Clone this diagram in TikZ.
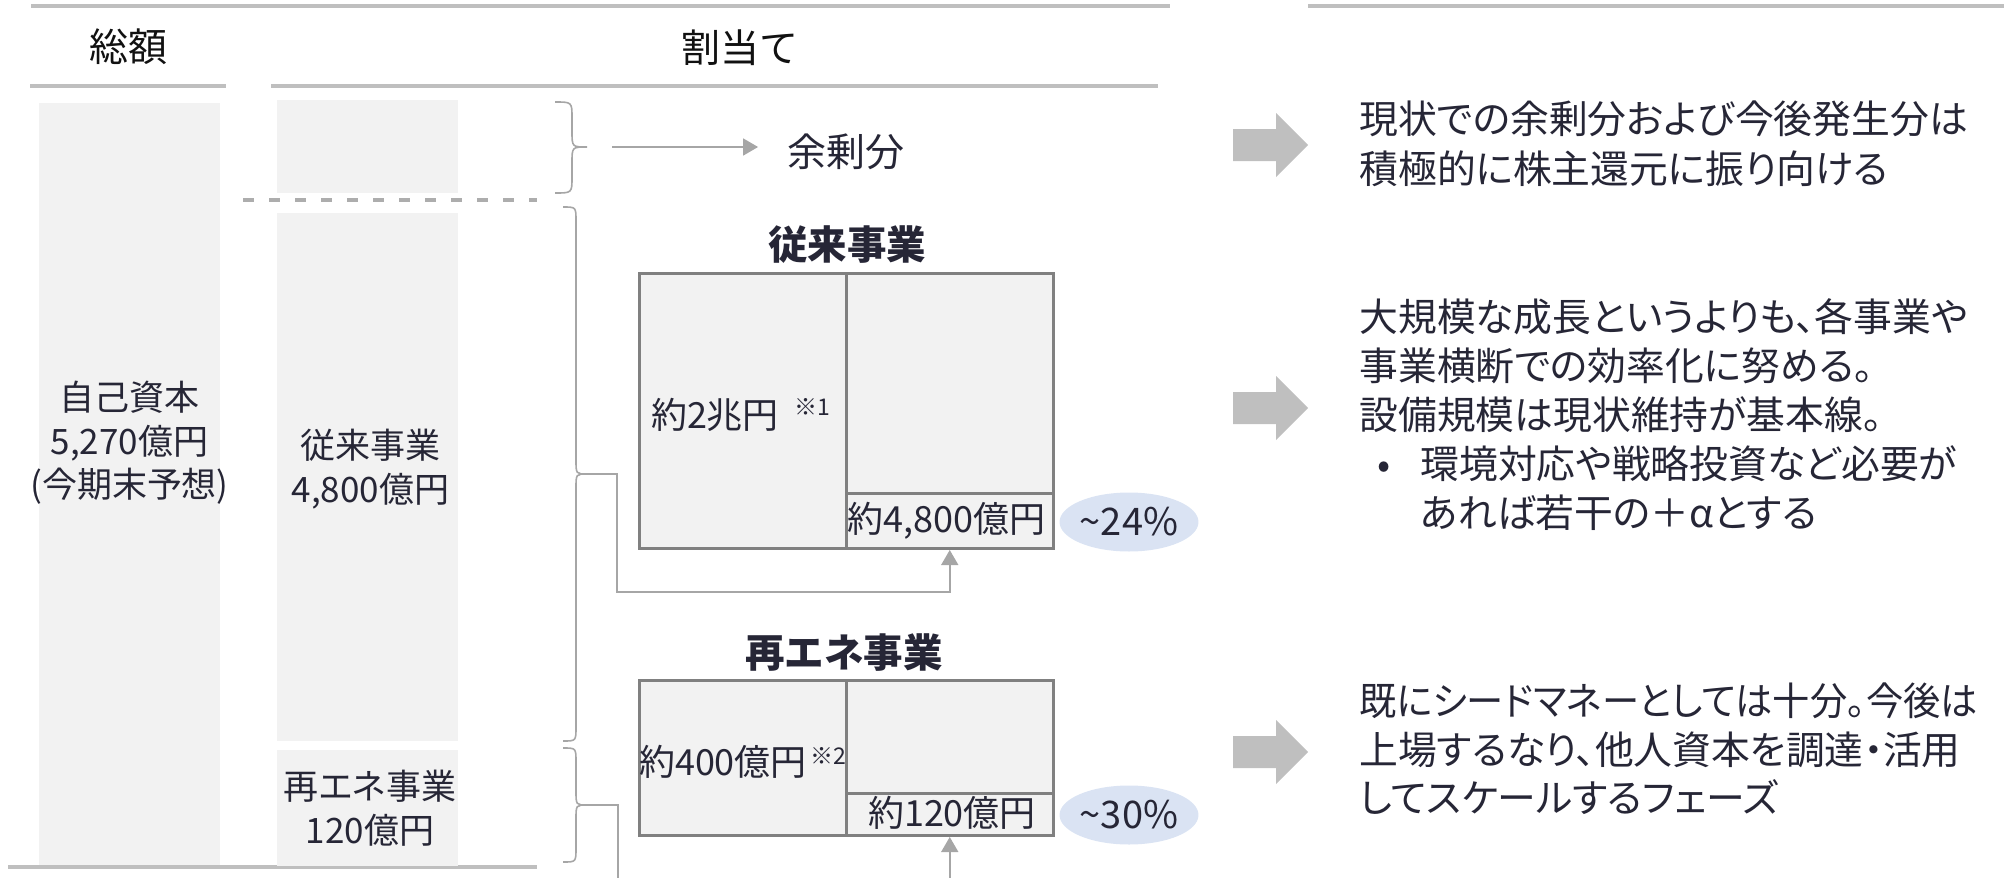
\documentclass[tikz,border=0pt]{standalone}
\usepackage{fontspec}
\setmainfont{Noto Sans CJK JP}
\newfontfamily\rfont{Noto Sans CJK JP}[RawFeature=+palt]
\newfontfamily\pfont{Noto Sans CJK JP}[RawFeature=+palt]
\usetikzlibrary{arrows.meta,shapes.geometric}
\definecolor{lineg}{HTML}{BFBFBF}
\definecolor{dashg}{HTML}{ADADAD}
\definecolor{conng}{HTML}{A6A6A6}
\definecolor{barf}{HTML}{F2F2F2}
\definecolor{boxd}{HTML}{808080}
\definecolor{ellf}{HTML}{DAE3F3}
\definecolor{txt}{HTML}{262636}
\definecolor{blk}{HTML}{111111}
\begin{document}
\begin{tikzpicture}[x=0.5pt,y=-0.5pt,
  rule/.style={draw=lineg,line width=2pt},
  bar/.style={fill=barf,draw=none,inner sep=0pt,outer sep=0pt,anchor=north west},
  cell/.style={fill=barf,draw=boxd,line width=1.5pt,inner sep=0pt,anchor=north west},
  brc/.style={draw=conng,line width=0.8pt},
  conn/.style={draw=conng,line width=0.8pt},
  tipped/.style={-{Triangle[length=7.5pt,width=8.5pt]}},
  hdr/.style={text=blk,inner sep=0pt,font=\fontsize{19.5pt}{24pt}\selectfont},
  ctext/.style={text=txt,inner sep=0pt,align=center,font=\pfont\fontsize{17.5pt}{21.75pt}\selectfont},
  lbl/.style={text=txt,inner sep=0pt,font=\fontsize{18pt}{22pt}\selectfont},
  note/.style={text=txt,inner sep=0pt,font=\fontsize{11.5pt}{14pt}\selectfont},
  ttl/.style={text=txt,inner sep=0pt,font=\bfseries\fontsize{19.75pt}{24pt}\selectfont},
  pct/.style={fill=ellf,ellipse,draw=none,inner sep=0pt,minimum width=64pt,minimum height=29.5pt,text=txt,font=\fontsize{19pt}{22pt}\selectfont},
  rtext/.style={text=txt,inner sep=0pt,align=left,anchor=west,font=\rfont\fontsize{19.4pt}{25pt}\selectfont},
  blockarrow/.style={fill=lineg,draw=none}
]
\useasboundingbox (0,0) rectangle (2004,878);
\clip (0,0) rectangle (2004,878);

% header rules
\draw[rule] (31,6) -- (1170,6);
\draw[rule] (1308,6) -- (2004,6);
\draw[rule] (30,86) -- (226,86);
\draw[rule] (271,86) -- (1158,86);
\draw[rule] (8,867) -- (537,867);

% headers
\node[hdr] (hTotal) at (129,47) {総額};
\node[hdr] (hAlloc) at (740,48) {割当て};

% bars
\node[bar,minimum width=90.5pt,minimum height=381pt] (barTotal) at (39,103) {};
\node[bar,minimum width=90.5pt,minimum height=46.5pt] (barSurp) at (277,100) {};
\node[bar,minimum width=90.5pt,minimum height=264pt] (barLeg) at (277,213) {};
\node[bar,minimum width=90.5pt,minimum height=58pt] (barRen) at (277,750) {};

\draw[draw=dashg,line width=2pt,dash pattern=on 5.5pt off 7.5pt] (243,200) -- (537,200);

\node[ctext] (tTotal) at (129.5,443) {自己資本\\5,270億円\\(今期末予想)};
\node[ctext] (tLeg) at (370.5,469) {従来事業\\4,800億円};
\node[ctext] (tRen) at (370,808) {再エネ事業\\120億円};

% braces
\coordinate (b1tip) at (587,147);
\coordinate (b2tip) at (587,474);
\coordinate (b3tip) at (587,805);
\draw[brc] (555,102) .. controls (572,102) .. (572,118) -- (572,131) .. controls (572,147) .. (b1tip)
  .. controls (572,147) .. (572,163) -- (572,177) .. controls (572,193) .. (555,193);
\draw[brc] (563,207) .. controls (576,207) .. (576,221) -- (576,460) .. controls (576,474) .. (b2tip)
  .. controls (576,474) .. (576,488) -- (576,727) .. controls (576,741) .. (563,741);
\draw[brc] (563,748) .. controls (576,748) .. (576,762) -- (576,791) .. controls (576,805) .. (b3tip)
  .. controls (576,805) .. (576,819) -- (576,848) .. controls (576,862) .. (563,862);

% surplus
\node[text=txt,inner sep=0pt,font=\fontsize{19.5pt}{23pt}\selectfont] (surp) at (846,152) {余剰分};
\draw[conn,tipped] ([xshift=12.5pt]b1tip) -- ([xshift=-14.5pt]surp.west |- b1tip);

% legacy box
\node[ttl] (ttlLeg) at (847,245) {従来事業};
\node[cell,minimum width=103.25pt,minimum height=137.5pt] (legL) at (638,272) {};
\node[cell,minimum width=103.75pt,minimum height=110pt] (legRT) at (844.5,272) {};
\node[cell,minimum width=103.75pt,minimum height=27.5pt] (legRB) at (844.5,492) {};
\node[lbl] (legTotal) at (715,415) {約2兆円};
\node[note] (n1) at (812,407) {※1};
\node[lbl] (legVal) at (946.5,521) {約4,800億円};
\node[pct] (p1) at (1129,522) {\textasciitilde 24\%};

% renewable box
\node[ttl] (ttlRen) at (844,653) {再エネ事業};
\node[cell,minimum width=103.25pt,minimum height=77.5pt] (renL) at (638,679) {};
\node[cell,minimum width=103.75pt,minimum height=56.5pt] (renRT) at (844.5,679) {};
\node[cell,minimum width=103.75pt,minimum height=21pt] (renRB) at (844.5,792) {};
\node[lbl] (renTotal) at (723,762) {約400億円};
\node[note] (n2) at (828,756) {※2};
\node[lbl] (renVal) at (952,813) {約120億円};
\node[pct] (p2) at (1129,815) {\textasciitilde 30\%};

% connectors
\draw[conn,tipped] (b2tip) -- ++(30,0) |- (legRB.south |- 0,592) -- (legRB.south);
\draw[conn,tipped] (b3tip) -- ++(31,0) |- (renRB.south |- 0,920) -- (renRB.south);

% block arrows
\foreach \cy in {145,408,752}{
  \fill[blockarrow] (1233,\cy-16) -- (1276,\cy-16) -- (1276,\cy-32) -- (1308,\cy) -- (1276,\cy+32) -- (1276,\cy+16) -- (1233,\cy+16) -- cycle;
}

% right texts
\node[rtext] (r1) at (1359,144) {現状での余剰分および今後発生分は\\積極的に株主還元に振り向ける};
\node[rtext,font=\rfont\fontsize{19.4pt}{24.5pt}\selectfont] (r2) at (1359,415) {大規模な成長というよりも、各事業や\\事業横断での効率化に努める。\\設備規模は現状維持が基本線。\\\hspace*{9pt}\makebox[21.5pt][l]{•}環境対応や戦略投資など必要が\\\hspace*{30.5pt}あれば若干の＋αとする};
\node[rtext,font=\rfont\fontsize{19.4pt}{24.25pt}\selectfont] (r3) at (1359,749) {\scalebox{0.96}[1]{既にシードマネーとしては十分。今後は}\\上場するなり、他人資本を調達・活用\\してスケールするフェーズ};
\end{tikzpicture}
\end{document}
